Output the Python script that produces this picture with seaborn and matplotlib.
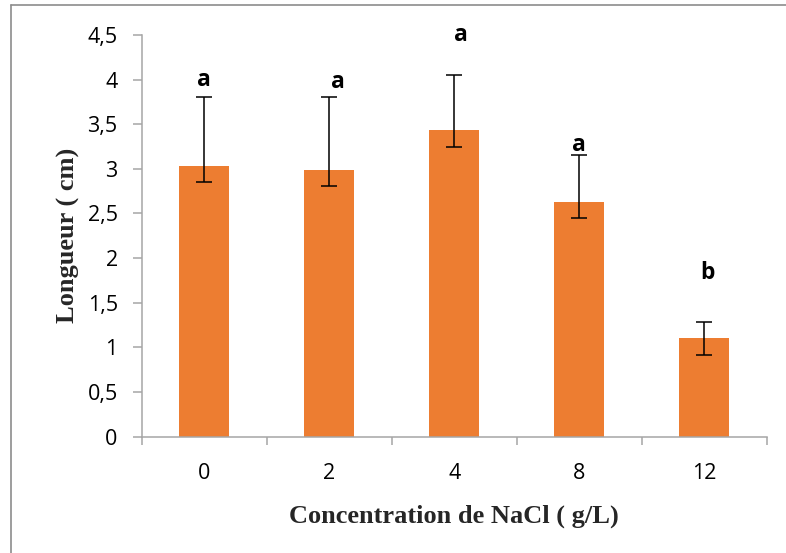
import matplotlib
matplotlib.use("Agg")
import matplotlib.pyplot as plt
from matplotlib.lines import Line2D
import seaborn as sns
import pandas as pd
import numpy as np

# ---- data ----
categories = ["0", "2", "4", "8", "12"]
longueur = [3.03, 2.99, 3.43, 2.63, 1.10]
err_low = [0.18, 0.18, 0.18, 0.18, 0.18]
err_high = [0.77, 0.81, 0.62, 0.52, 0.18]
letters = ["a", "a", "a", "a", "b"]
letter_y = [4.00, 3.97, 4.50, 3.27, 1.83]
letter_dx = [0.0, 0.07, 0.055, 0.0, 0.025]
yticks = [0, 0.5, 1, 1.5, 2, 2.5, 3, 3.5, 4, 4.5]
ytick_labels = ["0", "0,5", "1", "1,5", "2", "2,5", "3", "3,5", "4", "4,5"]

df = pd.DataFrame({"conc": categories, "longueur": longueur})

sns.set_theme(style="white")
plt.rcParams["font.family"] = ["Open Sans", "DejaVu Sans"]

W, H = 786, 553
fig = plt.figure(figsize=(W / 100, H / 100), dpi=100)
ax = fig.add_axes([141.7 / W, 1 - 436.7 / H, (767 - 141.7) / W, (436.7 - 34.9) / H])

sns.barplot(data=df, x="conc", y="longueur", color="#ED7D31", width=0.4,
            saturation=1, errorbar=None, edgecolor="none", ax=ax, zorder=2)

xpos = np.arange(len(categories))
ax.errorbar(xpos, longueur, yerr=[err_low, err_high], fmt="none",
            ecolor="black", elinewidth=1.1, capsize=6, capthick=1.1, zorder=3)

for i, (lt, ly, dx) in enumerate(zip(letters, letter_y, letter_dx)):
    ax.text(i + dx, ly, lt, ha="center", va="center", fontsize=16.5,
            fontweight="bold", color="black")

ax.set_xlim(-0.5, len(categories) - 0.5)
ax.set_ylim(0, 4.5)
ax.set_yticks(yticks)
ax.set_yticklabels(ytick_labels)

spine_col = "#A6A6A6"
for s in ["top", "right"]:
    ax.spines[s].set_visible(False)
for s in ["left", "bottom"]:
    ax.spines[s].set_color(spine_col)
    ax.spines[s].set_linewidth(1.1)

ax.tick_params(axis="y", which="major", length=6.3, width=1.1, color=spine_col,
               direction="out", left=True, pad=11, labelsize=15.5, labelcolor="black")
ax.tick_params(axis="x", which="major", length=0, pad=19, labelsize=15.5,
               labelcolor="black")
ax.set_xticks(np.arange(-0.5, len(categories), 1.0), minor=True)
ax.tick_params(axis="x", which="minor", length=6, width=1.1, color=spine_col,
               direction="out", bottom=True)

ax.set_xlabel("Concentration de NaCl ( g/L)", fontsize=19, fontweight="bold",
              family="Liberation Serif", labelpad=15)
ax.set_ylabel("Longueur ( cm)", fontsize=19, fontweight="bold",
              family="Liberation Serif", labelpad=5)

# outer chart frame
fx = 11 / W
fy = 1 - 5 / H
fig.add_artist(Line2D([fx, fx], [0, fy], transform=fig.transFigure,
                      color="#8C8C8C", linewidth=1.2))
fig.add_artist(Line2D([fx, 1], [fy, fy], transform=fig.transFigure,
                      color="#8C8C8C", linewidth=1.2))

fig.savefig("out.png", dpi=100)
